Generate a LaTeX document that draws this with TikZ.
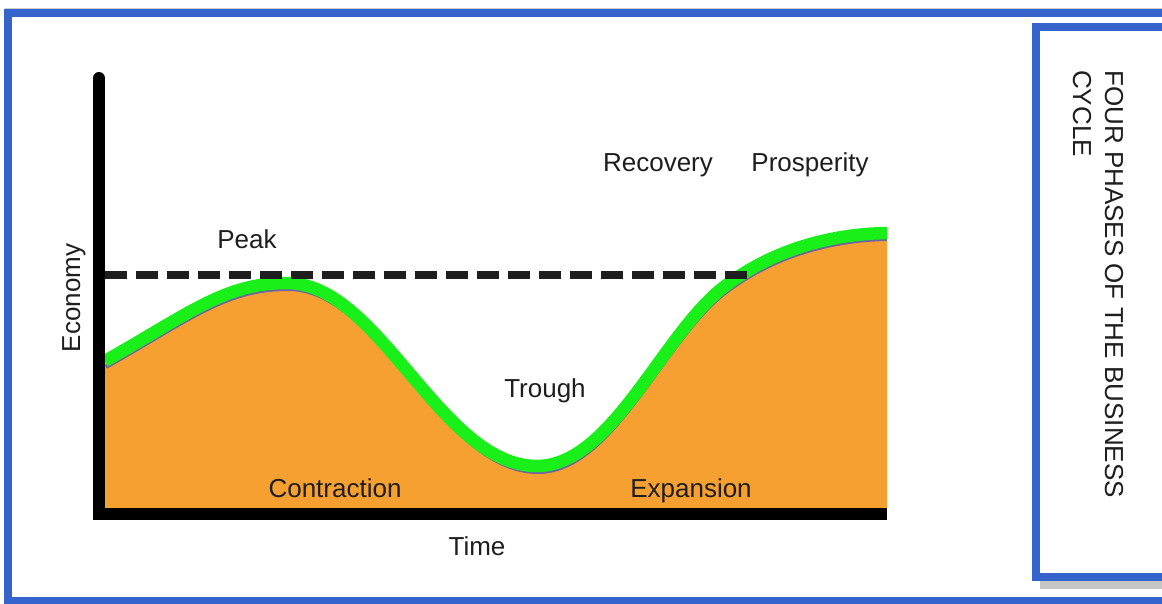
\documentclass[tikz,border=0pt]{standalone}
\usepackage{fontspec}
\setmainfont{Liberation Sans}
\definecolor{frameblue}{RGB}{52,100,204}
\definecolor{areaorange}{RGB}{247,160,50}
\definecolor{curvegreen}{RGB}{25,240,25}
\definecolor{shadowpurple}{RGB}{110,100,160}
\definecolor{inkdark}{RGB}{30,30,30}
\begin{document}
\begin{tikzpicture}[x=1pt,y=-1pt,
  lbl/.style={font=\fontsize{26}{30}\selectfont, text=inkdark, inner sep=0pt, anchor=base},
  vlbl/.style={font=\fontsize{26}{30}\selectfont, text=inkdark, inner sep=0pt},
  framebox/.style={draw=frameblue, line width=8pt},
  axisline/.style={draw=black, line width=12pt},
  peakline/.style={draw=inkdark, line width=8pt, dash pattern=on 22pt off 9pt}]
\useasboundingbox (0,0) rectangle (1162,604);
\fill[white] (0,0) rectangle (1162,604);
\begin{scope}
\clip (0,0) rectangle (1162,604);
% outer frame
\draw[gray!40, line width=1pt] (5,8.5) -- (1170,8.5);
\draw[framebox] (7.5,13.5) rectangle (1180,600.5);
% right title box with shadow
\fill[gray!45] (1040,580) rectangle (1175,589);
\draw[framebox, fill=white] (1036,27.5) rectangle (1180,577);
\end{scope}
% orange area
\fill[areaorange] (105,361) .. controls (190,313) and (225,283) .. (287,283)
  .. controls (380,283) and (440,466) .. (537,466)
  .. controls (610,466) and (660,340) .. (720,290)
  .. controls (770,250) and (830,234) .. (887,233)
  -- (887,508) -- (105,508) -- cycle;
% shadow line
\draw[shadowpurple, line width=4pt, shift={(1,6)}] (105,361) .. controls (190,313) and (225,283) .. (287,283)
  .. controls (380,283) and (440,466) .. (537,466)
  .. controls (610,466) and (660,340) .. (720,290)
  .. controls (770,250) and (830,234) .. (886,233);
% green curve
\draw[curvegreen, line width=12.5pt] (105,361) .. controls (190,313) and (225,283) .. (287,283)
  .. controls (380,283) and (440,466) .. (537,466)
  .. controls (610,466) and (660,340) .. (720,290)
  .. controls (770,250) and (830,234) .. (887,233);
% peak dashed line
\coordinate (dl) at (105,275);
\coordinate (dr) at (748,275);
\draw[peakline] (dl) -- (dr);
% axes
\coordinate (ytop) at (99,78);
\coordinate (ybot) at (99,514);
\draw[axisline, line cap=round] (ytop) -- (ybot);
\fill[black] (93,508) rectangle (887,520);
% labels
\node[lbl] (peak) at (247,248) {Peak};
\node[lbl] (recovery) at (658,172) {Recovery};
\node[lbl] (prosperity) at (810,172) {Prosperity};
\node[lbl] (trough) at (545,397) {Trough};
\node[lbl] (contraction) at (335,497) {Contraction};
\node[lbl] (expansion) at (691,497) {Expansion};
\node[lbl] (time) at (477,555) {Time};
\node[vlbl, rotate=90, anchor=base] (economy) at (80,298) {Economy};
\node[vlbl, rotate=-90, anchor=base west] (title1) at (1105,70) {FOUR PHASES OF THE BUSINESS};
\node[vlbl, rotate=-90, anchor=base west] (title2) at (1073,70) {CYCLE};
\end{tikzpicture}
\end{document}
